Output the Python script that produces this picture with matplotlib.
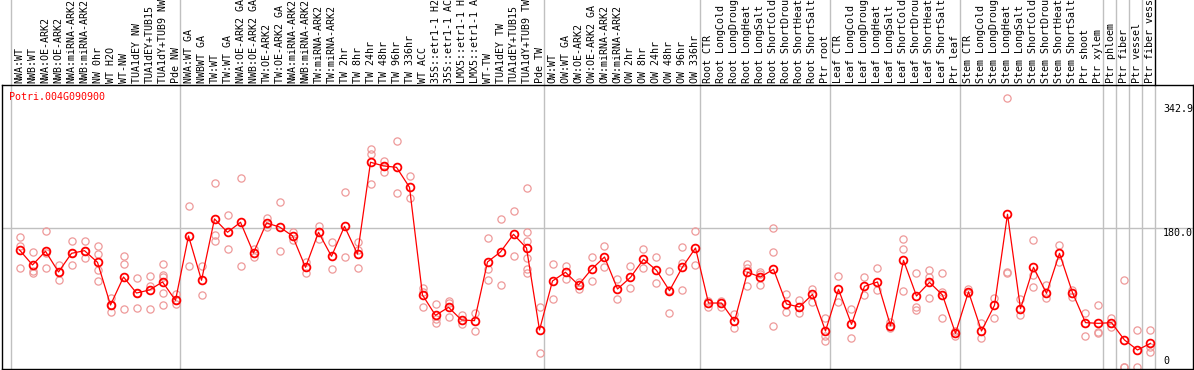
import matplotlib.pyplot as plt
import numpy as np

gene = "Potri.004G090900"

labels = [
    "NWA:WT", "NWB:WT", "NWA:OE-ARK2", "NWB:OE-ARK2", "NWA:miRNA-ARK2", "NWB:miRNA-ARK2",
    "NW 0hr", "WT H2O", "WT-NW", "TUA1dEY NW", "TUA1dEY+TUB15", "TUA1dY+TUB9 NW", "Pde NW",
    "NWA:WT GA", "NWBWT GA", "TW:WT", "TW:WT GA", "NWA:OE-ARK2 GA", "NWB:OE-ARK2 GA",
    "TW:OE-ARK2", "TW:OE-ARK2 GA", "NWA:miRNA-ARK2", "NWB:miRNA-ARK2", "TW:miRNA-ARK2",
    "TW:miRNA-ARK2", "TW 2hr", "TW 8hr", "TW 24hr", "TW 48hr", "TW 96hr", "TW 336hr",
    "WT ACC", "35S::etr1-1 H2", "35S::etr1-1 AC", "LMX5::etr1-1 H", "LMX5::etr1-1 A",
    "WT-TW", "TUA1dEY TW", "TUA1dEY+TUB15", "TUA1dY+TUB9 TW", "Pde TW",
    "OW:WT", "OW:WT GA", "OW:OE-ARK2", "OW:OE-ARK2 GA", "OW:miRNA-ARK2", "OW:miRNA-ARK2",
    "OW 2hr", "OW 8hr", "OW 24hr", "OW 48hr", "OW 96hr", "OW 336hr",
    "Root CTR", "Root LongCold", "Root LongDroug", "Root LongHeat", "Root LongSalt",
    "Root ShortCold", "Root ShortDrou", "Root ShortHeat", "Root ShortSalt", "Ptr root",
    "Leaf CTR", "Leaf LongCold", "Leaf LongDroug", "Leaf LongHeat", "Leaf LongSalt",
    "Leaf ShortCold", "Leaf ShortDrou", "Leaf ShortHeat", "Leaf ShortSalt", "Ptr leaf",
    "Stem CTR", "Stem LongCold", "Stem LongDroug", "Stem LongHeat", "Stem LongSalt",
    "Stem ShortCold", "Stem ShortDrou", "Stem ShortHeat", "Stem ShortSalt", "Ptr shoot",
    "Ptr xylem", "Ptr phloem", "Ptr fiber", "Ptr vessel", "Ptr fiber vess",
]

means = [
    151.6, 132.0, 149.9, 122.8, 147.2, 150.7, 135.4, 79.5, 116.2, 95.2, 99.2, 109.7, 85.6,
    170.0, 111.9, 192.3, 174.8, 187.9, 147.7, 187.0, 181.7, 170.0, 128.9, 174.8, 143.3,
    182.6, 146.3, 266.5, 261.7, 259.9, 233.7, 92.6, 66.0, 76.5, 59.9, 59.0, 135.9, 149.0,
    172.1, 154.2, 46.8,
    111.0, 122.4, 105.7, 126.3, 142.4, 100.5, 115.7, 139.4, 124.9, 98.3, 129.3, 154.2,
    82.1, 82.1, 58.1, 122.4, 116.2, 126.3, 80.8, 76.9, 93.5, 45.5,
    100.0, 54.2, 104.0, 109.7, 52.4, 138.0, 91.3, 109.2, 92.6, 42.4,
    96.9, 45.5, 79.1, 198.4, 74.7, 128.9, 94.8, 147.2, 95.7, 56.4, 55.5, 56.4, 33.7, 20.6, 29.3,
]

replicates = [
    [168.1, 157.3, 127.6], [148.5, 124.1, 121.0], [176.5, 147.2, 127.6], [132.0, 122.8, 112.8],
    [163.0, 147.2, 131.5], [163.0, 150.7, 140.8], [157.3, 146.3, 124.9, 110.5], [88.3, 79.5, 69.9],
    [143.7, 132.8, 74.3], [114.4, 95.2, 75.1], [117.5, 104.4, 74.3],
    [133.6, 118.8, 115.7, 95.2, 79.9], [93.9, 85.6, 80.8],
    [209.3, 130.7], [130.7, 92.6], [239.0, 171.2, 163.8], [197.5, 152.5], [246.0, 130.7],
    [152.5, 142.9], [193.1, 182.2], [214.5, 149.9], [175.6, 164.7], [135.4, 121.9],
    [183.1, 166.0], [161.7, 126.3], [227.1, 142.4], [161.7, 151.6, 127.6],
    [283.5, 277.4, 237.7], [268.7, 261.7, 253.4], [294.5, 225.9], [249.0, 219.3],
    [101.3, 96.1, 76.5], [80.8, 60.8, 56.4], [84.8, 81.7, 64.2], [66.0, 54.2], [68.6, 45.9],
    [166.9, 126.3, 111.9], [192.3, 105.7], [202.7, 144.2],
    [232.4, 174.8, 163.8, 140.7, 127.2, 121.9], [76.5, 16.2],
    [132.8, 87.4], [130.7, 114.0], [110.1, 100.5], [142.4, 111.0], [156.9, 128.9],
    [113.2, 87.8], [130.7, 101.3], [153.0, 127.6], [142.4, 108.4], [124.1, 99.2, 69.1],
    [155.1, 134.6, 99.2], [176.5, 131.5],
    [84.8, 77.3], [84.8, 77.3], [67.7, 48.9], [132.8, 128.0, 104.4], [123.2, 120.0, 105.7],
    [180.4, 148.5, 51.5], [93.9, 69.9], [86.1, 68.6], [100.5, 83.0], [62.1, 38.9, 32.8],
    [117.5, 83.9], [74.3, 35.8], [116.6, 92.2], [128.0, 99.2], [56.8, 48.9],
    [166.0, 153.0, 97.9], [121.0, 77.3, 72.9], [124.9, 116.6, 88.3], [121.0, 96.1, 62.6],
    [45.5, 38.9],
    [100.5, 94.8], [56.0, 35.8], [88.3, 62.6], [350.4, 123.2, 121.0], [87.4, 66.0],
    [164.2, 118.8, 103.5], [105.7, 88.3], [157.7, 135.9], [99.2, 90.4], [69.1, 38.5],
    [79.1, 44.6, 42.6], [62.6, 51.1], [111.8, -2.0, -2.0], [46.8, -2.0], [46.8, 25.0, 18.4],
]

# last column index of each group (separator lines drawn after them)
group_ends = [-1, 12, 40, 52, 62, 72, 83, 84, 85, 86, 87]
ytick_vals = [342.9, 180.0, 0]

mono = "DejaVu Sans Mono"
fs = 7.2

fig = plt.figure(figsize=(11.94, 3.70), dpi=100)
ax = fig.add_axes([1.7 / 1194, 0.7 / 370, 1191.3 / 1194, 284.3 / 370])
ax.set_xlim(-1.37, 90.27)
ax.set_ylim(-4.7, 367.7)
ax.set_xticks([])
ax.set_yticks([])
for s in ax.spines.values():
    s.set_color("black")
    s.set_linewidth(1.0)

head = 1 + 85 / 284.3
for g in group_ends:
    xb = g + 0.38
    ax.axvline(xb, ymin=0, ymax=1, color="#c0c0c0", lw=1.0, zorder=1)
    ax.axvline(xb, ymin=1, ymax=head, color="black" if g == 87 else "#c0c0c0",
               lw=1.0, clip_on=False, zorder=1)
ax.axhline(180.0, color="#c0c0c0", lw=1.0, zorder=1)

x = np.arange(len(means))
for i, vals in enumerate(replicates):
    ax.plot([i] * len(vals), vals, "o", ms=5.2, mfc="none", mec="#ee9a9a", mew=0.9,
            zorder=2)
ax.plot(x, means, "-", color="red", lw=0.9, zorder=3)
ax.plot(x, means, "o", ms=5.6, mfc="none", mec="red", mew=1.3, zorder=4)

for i, lab in enumerate(labels):
    ax.text(i, 1.006, lab, transform=ax.get_xaxis_transform(), rotation=90,
            ha="center", va="bottom", family=mono, fontsize=fs, clip_on=False)

ax.text(-0.78, 352, gene, color="red", family=mono, fontsize=fs, va="center", ha="left")

tx = (1163 - 19.5) / 13
for v in ytick_vals:
    ax.text(tx, v, f"{v:.1f}" if v else "0", family=mono, fontsize=fs, ha="left",
            va="top" if v else "bottom")

fig.savefig("out.png", dpi=100)
